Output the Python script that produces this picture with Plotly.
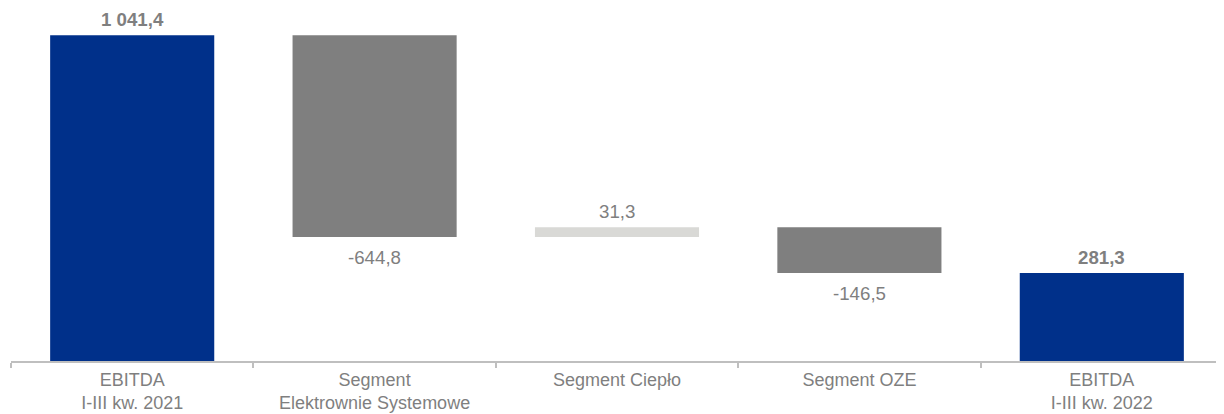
import plotly.graph_objects as go

categories = [
    "EBITDA<br>I-III kw. 2021",
    "Segment<br>Elektrownie Systemowe",
    "Segment Ciepło",
    "Segment OZE",
    "EBITDA<br>I-III kw. 2022",
]
values = [1041.4, -644.8, 31.3, -146.5, 281.3]
measures = ["absolute", "relative", "relative", "relative", "absolute"]

BLUE = "#00308A"
GRAY = "#7F7F7F"
LIGHT = "#D9D9D6"
TEXT = "#7F7F7F"
FONT = "Liberation Sans, Arial, sans-serif"


def fmt(v):
    s = f"{v:,.1f}"
    return s.replace(",", " ").replace(".", ",")


fig = go.Figure(
    go.Waterfall(
        x=categories,
        y=values,
        measure=measures,
        textposition="none",
        increasing=dict(marker=dict(color=LIGHT)),
        decreasing=dict(marker=dict(color=GRAY)),
        totals=dict(marker=dict(color=BLUE)),
        connector=dict(visible=False),
        cliponaxis=False,
    )
)

# value labels placed at the end of each bar
running = 0.0
for cat, v, m in zip(categories, values, measures):
    if m == "absolute":
        running = v
        fig.add_annotation(x=cat, y=running, text=f"<b>{fmt(v)}</b>",
                           showarrow=False, yanchor="bottom", yshift=3)
    else:
        running += v
        if v >= 0:
            fig.add_annotation(x=cat, y=running, text=fmt(v),
                               showarrow=False, yanchor="bottom", yshift=3)
        else:
            fig.add_annotation(x=cat, y=running, text=fmt(v),
                               showarrow=False, yanchor="top", yshift=-8)

fig.update_annotations(font=dict(family=FONT, size=18.7, color=TEXT))

# the page body adds an 8px offset, so the figure is sized to fit the window
fig.update_layout(
    width=1216,
    height=406,
    margin=dict(l=3, r=1, t=9, b=53),
    paper_bgcolor="white",
    plot_bgcolor="white",
    showlegend=False,
    waterfallgap=0.323,
    font=dict(family=FONT, size=18.7, color=TEXT),
)
fig.update_xaxes(
    automargin=False,
    showline=True,
    linecolor="#BFBFBF",
    linewidth=2,
    ticks="outside",
    tickson="boundaries",
    ticklen=5,
    tickwidth=2,
    tickcolor="#BFBFBF",
    ticklabelstandoff=1,
    tickfont=dict(family=FONT, size=18, color=TEXT),
    showgrid=False,
)
fig.update_yaxes(
    range=[0, 1100],
    visible=False,
    showgrid=False,
    zeroline=False,
    automargin=False,
)

fig.write_html("out.html")
